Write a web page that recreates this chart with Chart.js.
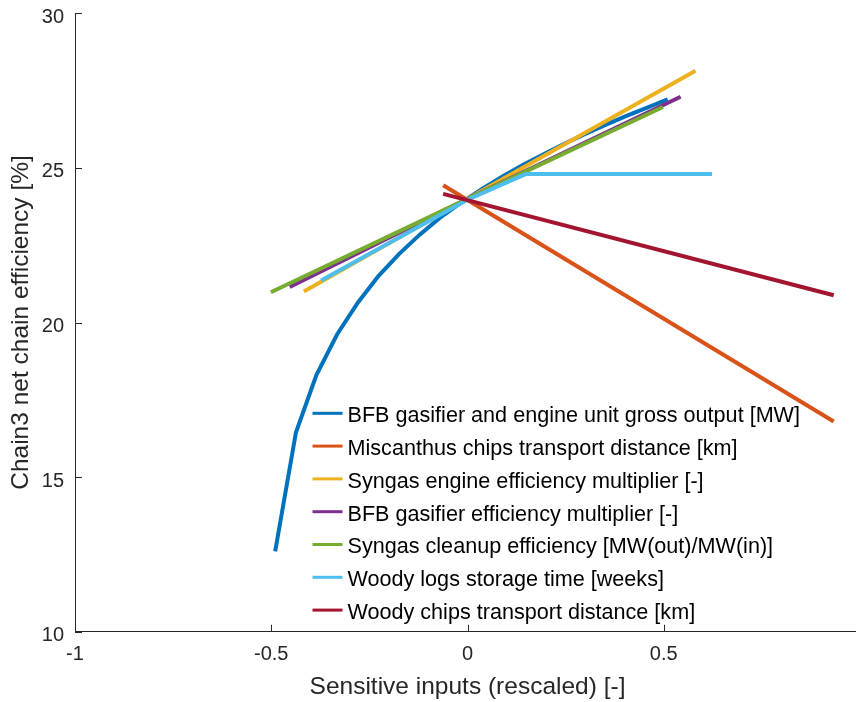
<!DOCTYPE html>
<html><head><meta charset="utf-8">
<script src="https://cdn.jsdelivr.net/npm/chart.js@4.4.1/dist/chart.umd.min.js"></script>
<style>
html,body{margin:0;padding:0;background:#fff;overflow:hidden;width:856px;height:702px}
#wrap{position:absolute;left:0;top:0;width:900px;height:702px}
</style>
</head><body>
<div id="wrap"><canvas id="c" width="900" height="702"></canvas></div>
<script>
// ---- data ----
const seriesNames = [
  "BFB gasifier and engine unit gross output [MW]",
  "Miscanthus chips transport distance [km]",
  "Syngas engine efficiency multiplier [-]",
  "BFB gasifier efficiency multiplier [-]",
  "Syngas cleanup efficiency [MW(out)/MW(in)]",
  "Woody logs storage time [weeks]",
  "Woody chips transport distance [km]"
];
const seriesColors = ["#0072BD","#D95319","#EDB120","#7E2F8E","#77AC30","#4DBEEE","#A2142F"];

const bfbOutputX = [-0.49,-0.437,-0.385,-0.332,-0.279,-0.227,-0.174,-0.121,-0.069,-0.016,0.037,0.089,0.142,0.195,0.247,0.3,0.353,0.405,0.458,0.51];
const bfbOutputY = [12.6,16.45,18.3,19.62,20.65,21.5,22.22,22.85,23.4,23.88,24.32,24.72,25.1,25.45,25.78,26.1,26.4,26.68,26.95,27.22];

const miscanthusX = [-0.062, 0.933];
const miscanthusY = [24.44, 16.8];

const engineEffX = [-0.417, 0, 0.581];
const engineEffY = [21.0, 24.0, 28.14];

const gasifierEffX = [-0.453, 0, 0.543];
const gasifierEffY = [21.15, 24.0, 27.3];

const cleanupEffX = [-0.501, 0, 0.498];
const cleanupEffY = [20.98, 24.0, 26.97];

const logsStorageX = [-0.373, 0, 0.148, 0.623];
const logsStorageY = [21.36, 23.97, 24.8, 24.8];

const woodyChipsX = [-0.062, 0.933];
const woodyChipsY = [24.16, 20.88];

const xTicks = [-1, -0.5, 0, 0.5, 1];
const yTicks = [10, 15, 20, 25, 30];

// ---- build ----
const seriesX = [bfbOutputX, miscanthusX, engineEffX, gasifierEffX, cleanupEffX, logsStorageX, woodyChipsX];
const seriesY = [bfbOutputY, miscanthusY, engineEffY, gasifierEffY, cleanupEffY, logsStorageY, woodyChipsY];

const datasets = seriesNames.map((name, i) => ({
  label: name,
  data: seriesX[i].map((x, j) => ({x: x, y: seriesY[i][j]})),
  borderColor: seriesColors[i],
  backgroundColor: seriesColors[i],
  borderWidth: 4,
  showLine: true,
  pointRadius: 0,
  tension: 0,
  fill: false,
  order: seriesNames.length - i
}));

const axisColor = "#262626";
const FONT = "'Liberation Sans', Arial, Helvetica, sans-serif";

const inwardTicks = {
  id: 'inwardTicks',
  afterDraw(chart) {
    const ctx = chart.ctx;
    const xs = chart.scales.x, ys = chart.scales.y;
    const a = chart.chartArea;
    ctx.save();
    ctx.strokeStyle = axisColor;
    ctx.lineWidth = 1;
    ctx.beginPath();
    xTicks.forEach(v => {
      const px = Math.round(xs.getPixelForValue(v)) + 0.5;
      ctx.moveTo(px, a.bottom);
      ctx.lineTo(px, a.bottom - 7);
    });
    yTicks.forEach(v => {
      const py = Math.round(ys.getPixelForValue(v)) + 0.5;
      ctx.moveTo(a.left, py);
      ctx.lineTo(a.left + 7, py);
    });
    ctx.stroke();
    ctx.restore();
  }
};

const innerLegend = {
  id: 'innerLegend',
  afterDraw(chart) {
    const ctx = chart.ctx;
    ctx.save();
    ctx.font = "21.6px " + FONT;
    ctx.textBaseline = 'middle';
    ctx.textAlign = 'left';
    chart.data.datasets.forEach((ds, i) => {
      const y = 413.3 + i * 32.8;
      ctx.strokeStyle = ds.borderColor;
      ctx.lineWidth = 3;
      ctx.beginPath();
      ctx.moveTo(312.5, y);
      ctx.lineTo(342.5, y);
      ctx.stroke();
      ctx.fillStyle = "#000";
      ctx.fillText(ds.label, 347.5, y + 3);
    });
    ctx.restore();
  }
};

function zeroPad(s) { s.paddingTop = 0; s.paddingBottom = 0; s.paddingLeft = 0; s.paddingRight = 0; }

new Chart(document.getElementById('c'), {
  type: 'scatter',
  data: { datasets },
  options: {
    responsive: false,
    animation: false,
    events: [],
    layout: { padding: { top: 13.3, right: 40, left: 0, bottom: 0 } },
    plugins: { legend: { display: false }, tooltip: { enabled: false } },
    scales: {
      x: {
        type: 'linear', min: -1, max: 1,
        afterFit(s) { s.height = 70.3; zeroPad(s); },
        afterBuildTicks(s) { s.ticks = xTicks.map(v => ({value: v})); },
        grid: { display: true, drawOnChartArea: false, drawTicks: false },
        border: { display: true, color: axisColor, width: 1 },
        ticks: { color: axisColor, font: { size: 20, family: FONT }, padding: 11, maxRotation: 0,
                 callback: v => String(v) },
        title: { display: true, text: 'Sensitive inputs (rescaled) [-]', color: axisColor,
                 font: { size: 24.5, family: FONT }, padding: { top: 0, bottom: 0 } }
      },
      y: {
        type: 'linear', min: 10, max: 30,
        afterFit(s) { s.width = 75; zeroPad(s); },
        afterBuildTicks(s) { s.ticks = yTicks.map(v => ({value: v})); },
        grid: { display: true, drawOnChartArea: false, drawTicks: false },
        border: { display: true, color: axisColor, width: 1 },
        ticks: { color: axisColor, font: { size: 20, family: FONT }, padding: 11, labelOffset: 4,
                 callback: v => String(v) },
        title: { display: true, text: 'Chain3 net chain efficiency [%]', color: axisColor,
                 font: { size: 24.5, family: FONT }, padding: { top: 7, bottom: 0 } }
      }
    }
  },
  plugins: [inwardTicks, innerLegend]
});
</script>
</body></html>
